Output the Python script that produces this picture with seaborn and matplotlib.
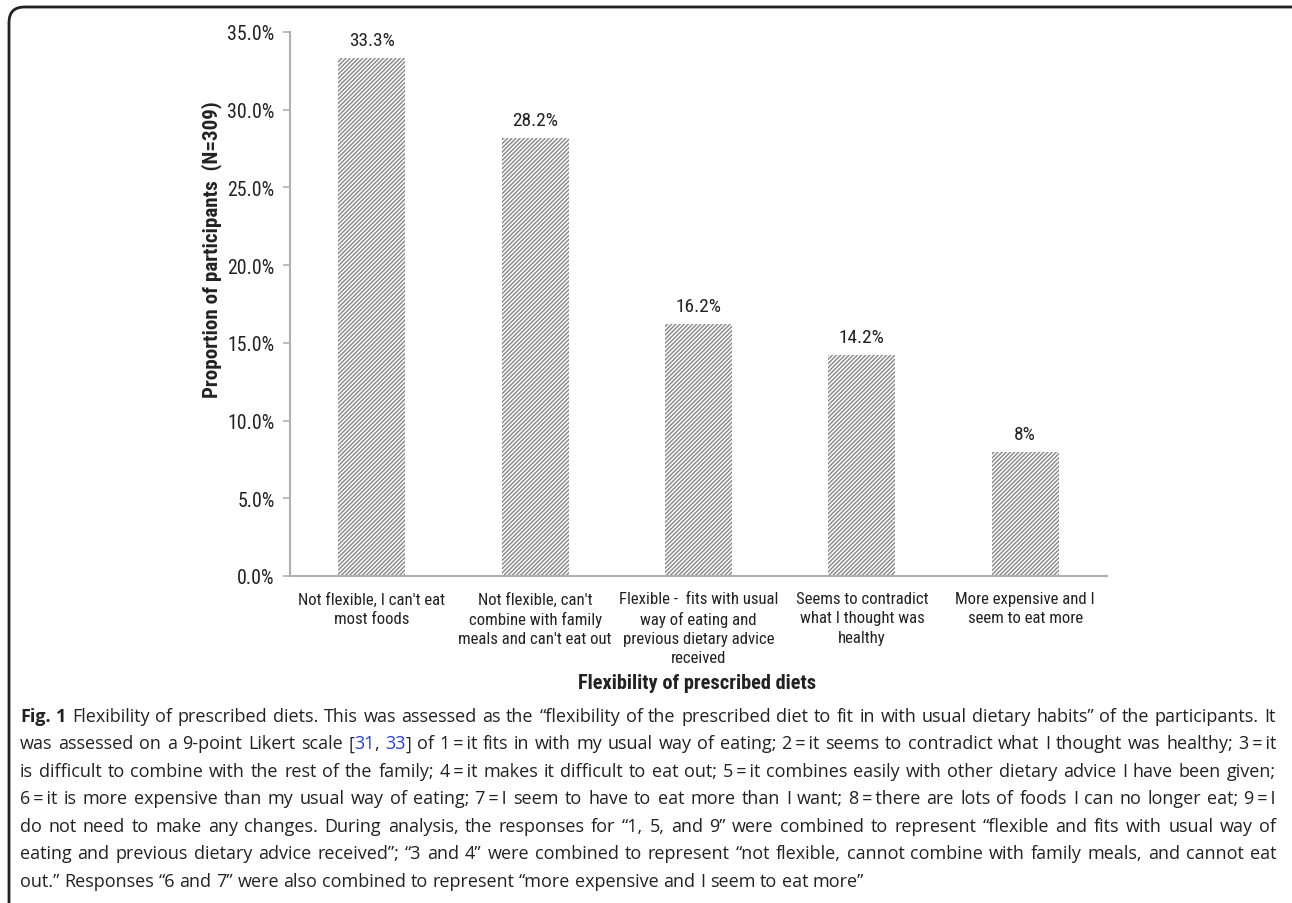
import matplotlib
matplotlib.use("Agg")
import matplotlib.pyplot as plt
import seaborn as sns
from matplotlib.patches import FancyBboxPatch
from matplotlib.ticker import FuncFormatter

categories = [
    "Not flexible, I can't eat\nmost foods",
    "Not flexible, can't\ncombine with family\nmeals and can't eat out",
    "Flexible -  fits with usual\nway of eating and\nprevious dietary advice\nreceived",
    "Seems to contradict\nwhat I thought was\nhealthy",
    "More expensive and I\nseem to eat more",
]
values = [33.3, 28.2, 16.2, 14.2, 8.0]
value_labels = ["33.3%", "28.2%", "16.2%", "14.2%", "8%"]
y_ticks = [0, 5, 10, 15, 20, 25, 30, 35]
x_title = "Flexibility of prescribed diets"
y_title = "Proportion of participants  (N=309)"

TXT = "#222222"
LINK = "#2a3fd6"
caption_lines = [
    [("Fig. 1", "bold", TXT), (" Flexibility of prescribed diets. This was assessed as the \u201cflexibility of the prescribed diet to fit in with usual dietary habits\u201d of the participants. It", "normal", TXT)],
    [("was assessed on a 9-point Likert scale [", "normal", TXT), ("31", "normal", LINK), (", ", "normal", TXT), ("33", "normal", LINK), ("] of 1\u2009=\u2009it fits in with my usual way of eating; 2\u2009=\u2009it seems to contradict what I thought was healthy; 3\u2009=\u2009it", "normal", TXT)],
    [("is difficult to combine with the rest of the family; 4\u2009=\u2009it makes it difficult to eat out; 5\u2009=\u2009it combines easily with other dietary advice I have been given;", "normal", TXT)],
    [("6\u2009=\u2009it is more expensive than my usual way of eating; 7\u2009=\u2009I seem to have to eat more than I want; 8\u2009=\u2009there are lots of foods I can no longer eat; 9\u2009=\u2009I", "normal", TXT)],
    [("do not need to make any changes. During analysis, the responses for \u201c1, 5, and 9\u201d were combined to represent \u201cflexible and fits with usual way of", "normal", TXT)],
    [("eating and previous dietary advice received\u201d; \u201c3 and 4\u201d were combined to represent \u201cnot flexible, cannot combine with family meals, and cannot eat", "normal", TXT)],
    [("out.\u201d Responses \u201c6 and 7\u201d were also combined to represent \u201cmore expensive and I seem to eat more\u201d", "normal", TXT)],
]

sns.set_theme(style="white")
plt.rcParams["hatch.linewidth"] = 0.9
W, H = 1292, 904
fig = plt.figure(figsize=(W / 100, H / 100), dpi=100)
renderer = fig.canvas.get_renderer()

chart_font = ["Liberation Sans Narrow", "Arial Narrow", "Roboto Condensed",
              "Archivo Narrow", "PT Sans Narrow", "Liberation Sans", "DejaVu Sans"]
cap_font = ["Open Sans", "DejaVu Sans"]


def text_width(s, size, family, weight="normal"):
    t = fig.text(0, 0, s, fontsize=size, fontweight=weight, family=family)
    w = t.get_window_extent(renderer).width
    t.remove()
    return w


def fit_size(s, target_px, family, weight="normal"):
    return 10 * target_px / text_width(s, 10, family, weight)


xtick_size = fit_size("Not flexible, I can't eat", 146, chart_font)
ytick_size = fit_size("35.0%", 47, chart_font)
val_size = fit_size("33.3%", 46, chart_font)
xtitle_size = fit_size(x_title, 240, chart_font, "bold")
ytitle_size = fit_size(y_title, 296, chart_font, "bold")

ax_left, ax_right, ax_top, ax_bot = 290, 1107, 33, 577
ax = fig.add_axes([ax_left / W, 1 - ax_bot / H, (ax_right - ax_left) / W,
                   (ax_bot - ax_top) / H])

sns.barplot(x=list(range(len(values))), y=values, color="white", width=0.41,
            ax=ax, saturation=1)
for p in ax.patches:
    p.set_hatch("////////")
    p.set_edgecolor("#808080")
    p.set_linewidth(0)
    p.set_facecolor("#f7f7f7")

for p, lab in zip(ax.patches, value_labels):
    ax.annotate(lab, (p.get_x() + p.get_width() / 2, p.get_height()),
                xytext=(0, 13), textcoords="offset points", ha="center",
                va="center", fontsize=val_size, family=chart_font, color=TXT)

ax.set_ylim(0, 35)
ax.set_xlim(-0.5, len(values) - 0.5)
ax.set_yticks(y_ticks)
ax.yaxis.set_major_formatter(FuncFormatter(lambda v, _: f"{v:.1f}%"))
ax.set_xticks(range(len(values)))
ax.set_xticklabels(categories, family=chart_font, fontsize=xtick_size,
                   color=TXT, linespacing=1.35, va="top")
for lab in ax.get_yticklabels():
    lab.set_family(chart_font)
    lab.set_fontsize(ytick_size)
    lab.set_color(TXT)
ax.tick_params(axis="y", length=5, width=1.2, color="#b0b0b0", left=True,
               direction="out", pad=6)
ax.tick_params(axis="x", length=0, pad=11)
for s in ["top", "right"]:
    ax.spines[s].set_visible(False)
for s in ["left", "bottom"]:
    ax.spines[s].set_color("#b0b0b0")
    ax.spines[s].set_linewidth(1.5)
ax.set_xlabel("")
ax.set_ylabel("")

fig.text(697 / W, 1 - 684 / H, x_title, ha="center", va="center",
         fontsize=xtitle_size, fontweight="bold", family=chart_font, color=TXT)
fig.text(212 / W, 1 - 250 / H, y_title, ha="center", va="center",
         rotation=90, fontsize=ytitle_size, fontweight="bold",
         family=chart_font, color=TXT)

# frame
frame = FancyBboxPatch((9 / W, -20 / H), (1310 - 9) / W, (896 + 20) / H,
                       boxstyle="round,pad=0,rounding_size=0.012",
                       transform=fig.transFigure, fill=False,
                       edgecolor="#222222", linewidth=2, mutation_aspect=W / H)
fig.patches.append(frame)

# caption (justified)
left_px, right_px = 20, 1276
line_y = [717 + 27.5 * i for i in range(len(caption_lines))]


def tokenize(runs):
    words = [[]]
    for text, w, c in runs:
        parts = text.split(" ")
        for i, part in enumerate(parts):
            if i > 0:
                words.append([])
            if part:
                words[-1].append((part, w, c))
    return [w for w in words if w]


def natural_width(runs, size):
    return sum(text_width(t.replace(" ", "\u00a0"), size, cap_font, w)
               for t, w, c in runs)


widest = max(natural_width(r, 10) for r in caption_lines[:-1])
cap_size = 10 * (right_px - left_px) * 0.99 / widest

space_w = text_width("a a", cap_size, cap_font) - text_width("aa", cap_size, cap_font)
for li, (runs, yy) in enumerate(zip(caption_lines, line_y)):
    words = tokenize(runs)
    widths = [[text_width(s, cap_size, cap_font, w) for s, w, c in word] for word in words]
    total = sum(sum(ws) for ws in widths)
    last = li == len(caption_lines) - 1
    gap = space_w if last else (right_px - left_px - total) / (len(words) - 1)
    x = left_px
    for word, ws in zip(words, widths):
        for (s, w, c), wd in zip(word, ws):
            fig.text(x / W, 1 - yy / H, s, fontsize=cap_size, fontweight=w,
                     family=cap_font, color=c, va="baseline", ha="left",
                     transform=None) if False else \
                fig.text(x / W, 1 - (yy + 5) / H, s, fontsize=cap_size,
                         fontweight=w, family=cap_font, color=c,
                         va="baseline", ha="left")
            x += wd
        x += gap

fig.savefig("out.png", dpi=100)
